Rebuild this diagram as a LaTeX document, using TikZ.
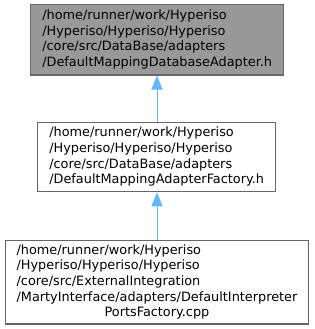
\documentclass[tikz,border=0pt]{standalone}
\usepackage{fontspec}
\setmainfont{DejaVu Sans}
\usepackage{tikz}
\usetikzlibrary{arrows.meta,positioning,calc}
\definecolor{edgeblue}{HTML}{63B8FF}
\definecolor{boxgrey}{HTML}{666666}
\definecolor{rootfill}{HTML}{999999}
\tikzset{
  fnode/.style={rectangle,draw=boxgrey,line width=1.1pt,fill=white,inner xsep=11.5pt,inner ysep=0pt,
    font=\fontsize{12.85}{15.6}\selectfont},
  rnode/.style={fnode,fill=rootfill},
  de/.style={-{Triangle[length=14pt,width=11pt]},draw=edgeblue,fill=edgeblue,line width=0.9pt}
}

\begin{document}
\begin{tikzpicture}[x=1pt,y=-1pt]
\useasboundingbox (0,0) rectangle (315,329);
\node[rnode,minimum height=70.3pt] (H) at (157.2,39.8) {\begin{tabular}{@{}l@{}}
/home/runner/work/Hyperiso\\
/Hyperiso/Hyperiso/Hyperiso\\
/core/src/DataBase/adapters\\
/DefaultMappingDatabaseAdapter.h\end{tabular}};
\node[fnode,minimum height=69pt] (F) at (156.7,157.2) {\begin{tabular}{@{}l@{}}
/home/runner/work/Hyperiso\\
/Hyperiso/Hyperiso/Hyperiso\\
/core/src/DataBase/adapters\\
/DefaultMappingAdapterFactory.h\end{tabular}};
\node[fnode,minimum height=83.3pt] (P) at (157,282.3) {\begin{tabular}{@{}l@{}}
/home/runner/work/Hyperiso\\
/Hyperiso/Hyperiso/Hyperiso\\
/core/src/ExternalIntegration\\
/MartyInterface/adapters/DefaultInterpreter\\
\multicolumn{1}{@{}c@{}}{PortsFactory.cpp}\end{tabular}};
\draw[de] (F.north -| 157,0) -- (H.south -| 157,0);
\draw[de] (P.north -| 157,0) -- (F.south -| 157,0);
\end{tikzpicture}
\end{document}
